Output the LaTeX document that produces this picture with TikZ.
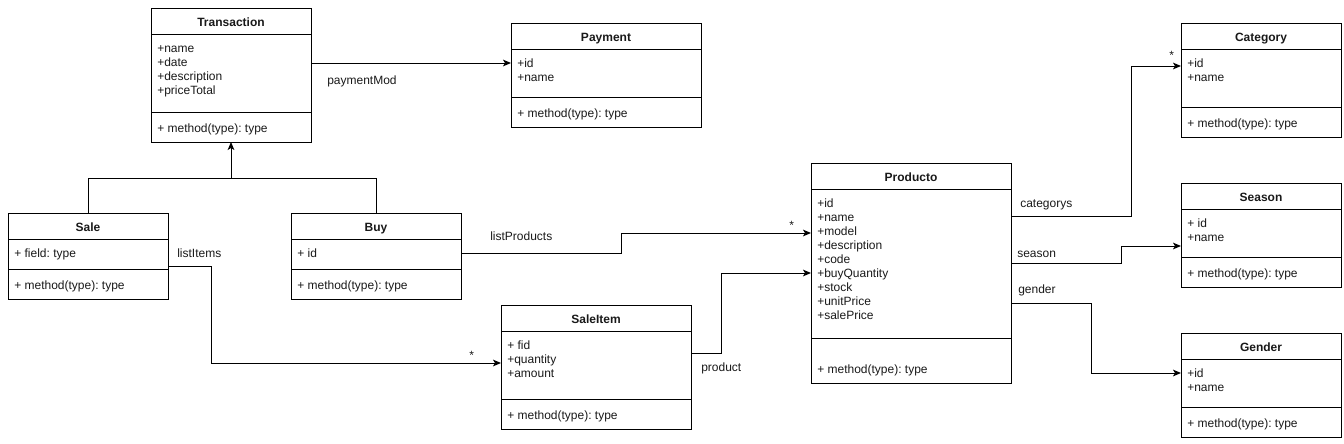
\documentclass[tikz,border=0pt]{standalone}
\usepackage{fontspec}
\setmainfont{Liberation Sans}
\usepackage{tikz}
\usetikzlibrary{arrows.meta, calc}
\definecolor{lineBlack}{gray}{0.0}
\definecolor{textBlack}{gray}{0.1}

\newcommand{\dfont}{\fontsize{9}{10.5}\selectfont\frenchspacing}

\tikzset{
  box/.style={draw=lineBlack, line width=0.75pt, rectangle, outer sep=0pt, inner sep=0pt},
  head/.style={box, minimum height=19.5pt, text height=8pt, text depth=0pt, font=\dfont\bfseries},
  body/.style={anchor=north west, align=left, inner xsep=4.5pt, inner ysep=6.5pt},
  lbl/.style={anchor=base west, inner sep=0pt},
  conn/.style={-{Stealth[length=6pt, width=5pt, inset=1.5pt]}, line width=0.75pt, lineBlack},
}

% class box: name, corner, width, title, attribute height, attributes, method height
\newcommand{\umlclass}[7]{%
  \node[head, minimum width=#3, anchor=north west] (#1) at (#2) {#4};
  \node[box, minimum width=#3, minimum height=#5, anchor=north] (#1-a) at (#1.south) {};
  \node[body] (#1-t) at (#1-a.north west) {\strut #6};
  \node[box, minimum width=#3, minimum height=#7, anchor=north] (#1-m) at (#1-a.south) {};
  \node[lbl, xshift=4.5pt, yshift=7pt] (#1-o) at (#1-m.south west) {+ method(type): type};
}

\begin{document}
\begin{tikzpicture}[x=0.75pt, y=-0.75pt, font=\dfont, text=textBlack]
    \useasboundingbox (0,0) rectangle (1344,443);

    % Classes
    \umlclass{trans}{151,8}{120pt}{Transaction}{58.5pt}{+name\\+date\\+description\\+priceTotal}{22.5pt}
    \umlclass{pay}{511,23}{142.5pt}{Payment}{36pt}{+id\\+name}{22.5pt}
    \umlclass{sale}{8,213}{120pt}{Sale}{22.5pt}{+ field: type}{22.5pt}
    \umlclass{buy}{291,213}{127.5pt}{Buy}{22.5pt}{+ id}{22.5pt}
    \umlclass{item}{501,305}{142.5pt}{SaleItem}{51pt}{+ fid\\+quantity\\+amount}{22.5pt}
    \umlclass{prod}{811,163}{150pt}{Producto}{111.75pt}{+id\\+name\\+model\\+description\\+code\\+buyQuantity\\+stock\\+unitPrice\\+salePrice}{33.75pt}
    \umlclass{cat}{1181,23}{120pt}{Category}{43.5pt}{+id\\+name}{22.5pt}
    \umlclass{sea}{1181,183}{120pt}{Season}{36pt}{+ id\\+name}{22.5pt}
    \umlclass{gen}{1181,333}{120pt}{Gender}{36pt}{+id\\+name}{22.5pt}

    % Inheritance
    \coordinate (inh) at (trans-m.south |- 0,178);
    \draw[line width=0.75pt] (sale.north) |- (inh);
    \draw[line width=0.75pt] (buy.north) |- (inh);
    \draw[conn] (inh) -- (trans-m.south);

    % Associations
    \draw[conn] (trans-a.east |- 0,63) -- (pay-a.west |- 0,63);
    \draw[conn] (sale-a.east |- 0,266) -| (211,363) -- (item-a.west |- 0,363);
    \draw[conn] (buy-a.east |- 0,253) -| (621,233) -- (prod-a.west |- 0,233);
    \draw[conn] (item-a.east |- 0,353) -| (721,273) -- (prod-a.west |- 0,273);
    \draw[conn] (prod-a.east |- 0,216) -| (1131,66) -- (cat-a.west |- 0,66);
    \draw[conn] (prod-a.east |- 0,263) -| (1121,246) -- (sea-a.west |- 0,246);
    \draw[conn] (prod-a.east |- 0,303) -| (1091,373) -- (gen-a.west |- 0,373);

    % Labels
    \node[lbl] (l-pay) at (327,84) {paymentMod};
    \node[lbl] (l-items) at (177,257) {listItems};
    \node[lbl] (l-prods) at (490,240) {listProducts};
    \node[lbl] (l-prod) at (701,371) {product};
    \node[lbl] (l-cat) at (1020,207) {categorys};
    \node[lbl] (l-sea) at (1017,257) {season};
    \node[lbl] (l-gen) at (1018,293) {gender};
    \node[lbl] (m-item) at (469,359) {*};
    \node[lbl] (m-prod) at (789,229) {*};
    \node[lbl] (m-cat) at (1169,59) {*};
\end{tikzpicture}
\end{document}
